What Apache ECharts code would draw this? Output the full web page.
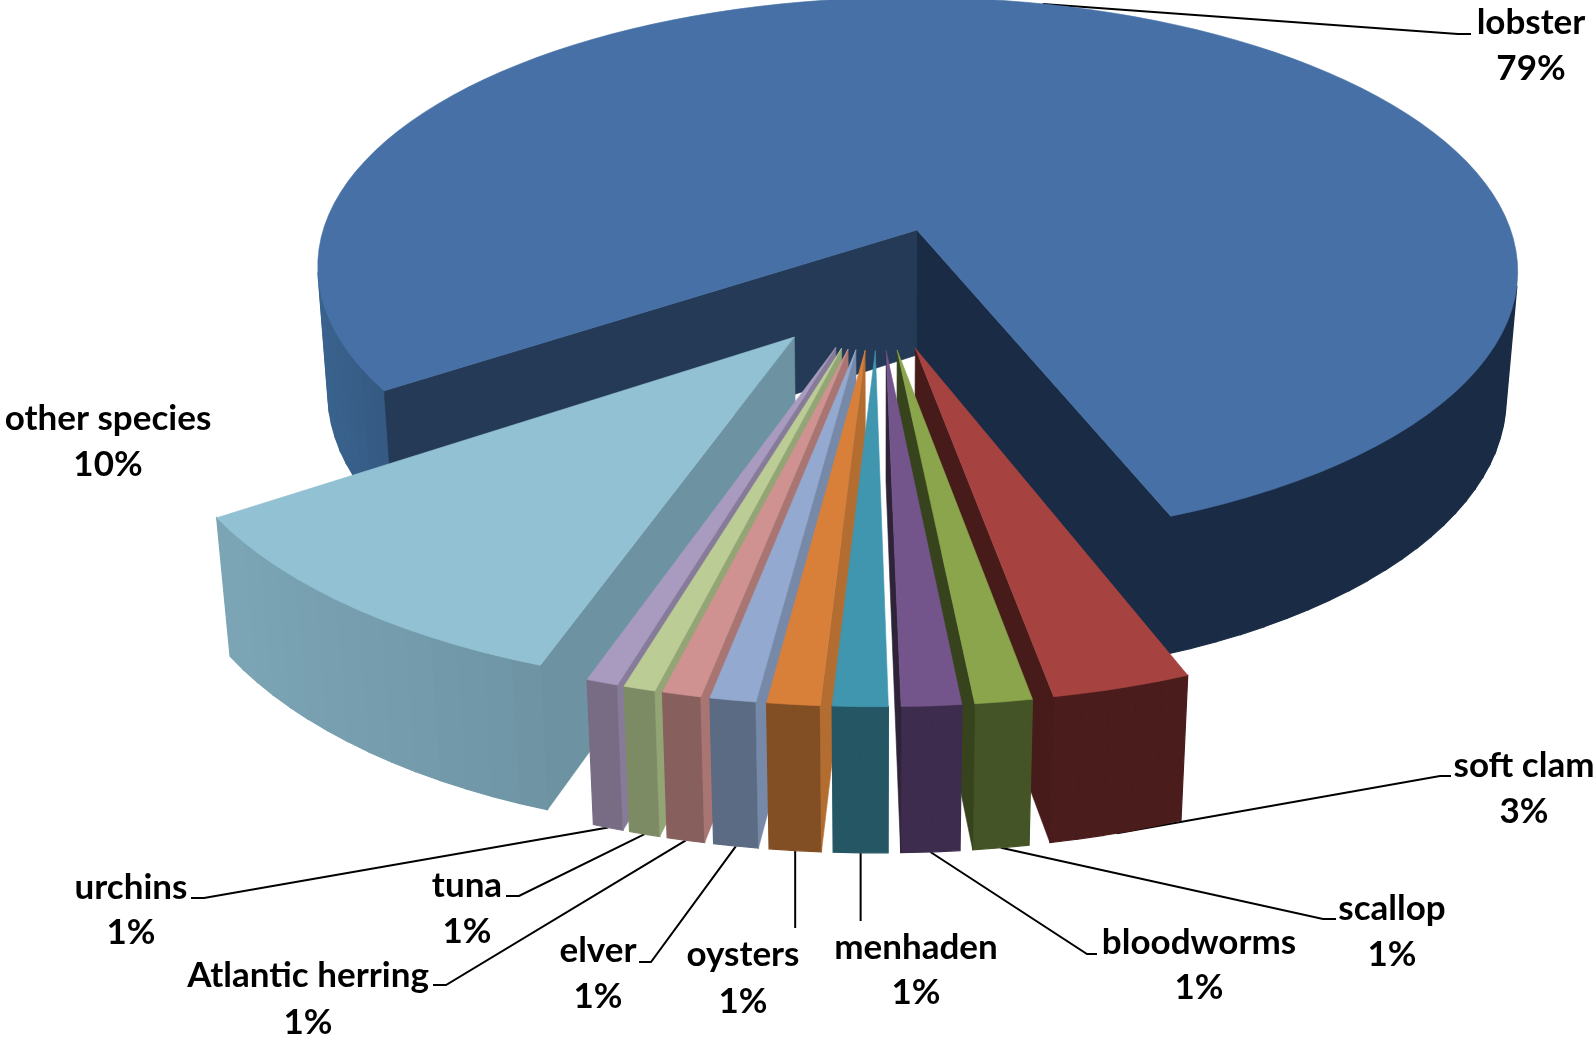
<!DOCTYPE html>
<html lang="en">
<head>
<meta charset="UTF-8">
<title>Landings by species</title>
<script src="https://cdn.jsdelivr.net/npm/echarts@6/dist/echarts.min.js"></script>
<style>
    *{margin:0;padding:0;}
    html,body{width:100%;height:100%;background:#fff;}
    .container{width:1596px;height:1037px;}
</style>
</head>
<body>
<div class="container"></div>
<script>
    // clockwise from the first slice
    const species=['lobster','soft clam','scallop','bloodworms','menhaden','oysters','elver','Atlantic herring','tuna','urchins','other species'];
    const shares=[78.5,3.05,1.25,1.3,1.2,1.15,1.0,0.85,0.7,0.7,10.3];

    const topColors=['#4670a6','#a64340','#8aa54c','#73558c','#4096af','#d8803a','#93a9cf','#cf9290','#bbcc95','#a99bc0','#92c1d3'];
    const cutColors=['#1a2c45','#461b19','#36431c','#2e2339','#245664','#b46d30','#7689a9','#a97573','#93a575','#877b9a','#6d93a3'];
    const wallLeft=['#3a6490','#4a1c1b','#445426','#3d2c4d','#245664','#824e23','#5b6b83','#87605e','#7d8b64','#786c84','#80abbb'];
    const wallRight=['#1a2c45','#4a1c1b','#445426','#3d2c4d','#245664','#824e23','#5b6b83','#87605e','#7d8b64','#786c84','#668a9a'];
    const notchColor='#243a57';

    // label centre x, name line y, percent line y
    const labelBox=[[1531,23,69],[1524,766,812],[1392,909,955],[1199,943,988],[916,948,993],[743,955,1002],[598,951,997],[308,976,1023],[467,886,932],[131,888,933],[108,419,465]];
    // leader lines: elbow, then end at the label (no line for other species); equal x means straight down
    const leaderEnd=[[1458,34,1471,34],[1440,776,1451,776],[1323,919,1336,919],[1087,954,1097,954],[858,921,858,921],[793,928,793,928],[651,962,639,962],[446,985,433,985],[519,896,506,896],[204,898,191,898],null];

    // view of the pie, radius = 1
    const startAngle=236.2;
    const explode=0.218;
    const thick=0.24;
    const tilt=27.5*Math.PI/180;
    const camDist=6.0;
    const scale=612;
    const originX=878, originY=287;
    const cosT=Math.cos(tilt), sinT=Math.sin(tilt);
    const rad=Math.PI/180;

    function project(x,y,z){
        let s=scale*camDist/(camDist-y*cosT-z*sinT);
        return [originX+x*s,originY+(y*sinT-z*cosT)*s];
    }
    function faces(nx,ny,px,py){
        return nx*(-px)+ny*(camDist*cosT-py)>0;
    }
    function mix(a,b,t){
        let ca=echarts.color.parse(a),cb=echarts.color.parse(b);
        return 'rgb('+[0,1,2].map(i=>Math.round(ca[i]+(cb[i]-ca[i])*t)).join(',')+')';
    }

    let total=shares.reduce((a,b)=>a+b,0);
    let acc=0;
    let slices=shares.map(v=>{
        let a0=startAngle+acc/total*360;
        acc+=v;
        let a1=startAngle+acc/total*360;
        let mid=(a0+a1)/2*rad;
        return {a0:a0*rad,a1:a1*rad,mid,ox:explode*Math.sin(mid),oy:-explode*Math.cos(mid)};
    });

    function poly(points,color,width){
        return {type:'polygon',shape:{points},style:{fill:color,stroke:color,lineWidth:width}};
    }

    function drawSlice(params,api){
        let i=api.value(0);
        let s=slices[i];
        let kids=[];
        let step=2.5*rad;
        let n=Math.max(2,Math.ceil((s.a1-s.a0)/step));
        let rim=[];
        for(let k=0;k<=n;k++){
            let a=s.a0+(s.a1-s.a0)*k/n;
            rim.push([a,s.ox+Math.sin(a),s.oy-Math.cos(a)]);
        }
        // outer wall, in bands
        for(let k=0;k<n;k++){
            let p=rim[k],q=rim[k+1];
            let m=(p[0]+q[0])/2;
            if(!faces(Math.sin(m),-Math.cos(m),(p[1]+q[1])/2,(p[2]+q[2])/2)) continue;
            let t=Math.min(1,Math.max(0,Math.sin(m)+1));
            kids.push(poly([project(p[1],p[2],0),project(q[1],q[2],0),project(q[1],q[2],-thick),project(p[1],p[2],-thick)],mix(wallLeft[i],wallRight[i],t),1.2));
        }
        // cut walls
        let first=rim[0],last=rim[n];
        if(faces(-Math.cos(s.a0),-Math.sin(s.a0),first[1],first[2])){
            kids.push(poly([project(s.ox,s.oy,0),project(first[1],first[2],0),project(first[1],first[2],-thick),project(s.ox,s.oy,-thick)],i==0?notchColor:cutColors[i],0.6));
        }
        if(faces(Math.cos(s.a1),Math.sin(s.a1),last[1],last[2])){
            kids.push(poly([project(s.ox,s.oy,0),project(last[1],last[2],0),project(last[1],last[2],-thick),project(s.ox,s.oy,-thick)],cutColors[i],0.6));
        }
        // top
        let top=[project(s.ox,s.oy,0)];
        rim.forEach(p=>top.push(project(p[1],p[2],0)));
        kids.push(poly(top,topColors[i],0.6));
        return {type:'group',children:kids};
    }

    function drawLabel(params,api){
        let i=api.value(0);
        let s=slices[i];
        let box=labelBox[i];
        let kids=[];
        let font={fontFamily:'Lato',fontWeight:'bold',fontSize:35,fill:'#000',align:'center',verticalAlign:'middle'};
        kids.push({type:'text',style:Object.assign({text:species[i],x:box[0],y:box[1]},font)});
        kids.push({type:'text',style:Object.assign({text:Math.round(shares[i])+'%',x:box[0],y:box[2]},font)});
        let end=leaderEnd[i];
        if(end){
            // lobster's line leaves the top rim, the others the foot of the wall
            let a=i==0?s.mid-3*rad:s.mid;
            let from=project(s.ox+Math.sin(a),s.oy-Math.cos(a),i==0?0:-thick);
            let pts=end[0]==end[2]?[from,[from[0],end[1]]]:[from,[end[0],end[1]],[end[2],end[3]]];
            kids.push({type:'polyline',shape:{points:pts},style:{fill:'none',stroke:'#000',lineWidth:2}});
        }
        return {type:'group',children:kids};
    }

    let chart=echarts.init(document.querySelector('.container'));
    // back to front, so a nearer slice covers the cut wall of the one beside it
    let order=species.map((name,i)=>i).sort((a,b)=>slices[a].oy-slices[b].oy);
    chart.setOption({
        backgroundColor:'#fff',
        animation:false,
        series:[
            {type:'custom',coordinateSystem:'none',renderItem:drawSlice,data:order.map(i=>[i]),z:2,silent:true},
            {type:'custom',coordinateSystem:'none',renderItem:drawLabel,data:species.map((name,i)=>[i]),z:1,silent:true}
        ]
    });
</script>
</body>
</html>
